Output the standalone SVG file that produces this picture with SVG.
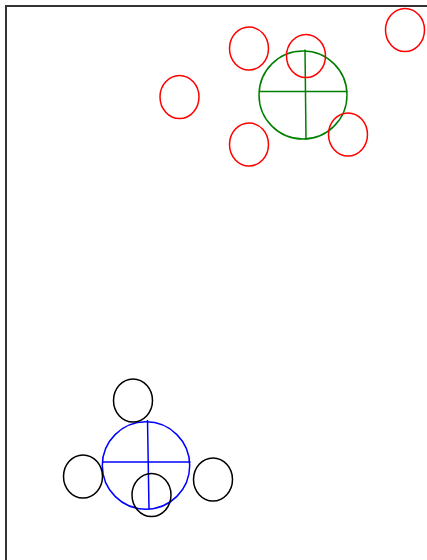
<svg xmlns="http://www.w3.org/2000/svg" width="427" height="560" viewBox="0 0 427 560">
<style>
.r{fill:none;stroke:#ff0000;stroke-width:1.5}
.k{fill:none;stroke:#000;stroke-width:1.5}
.g{fill:none;stroke:#008000;stroke-width:1.5}
.b{fill:none;stroke:#0000ff;stroke-width:1.5}
</style>
<rect width="427" height="560" fill="#fff"/>
<path d="M6,560 V6 H427" fill="none" stroke="#333" stroke-width="2"/>
<g id="green-node">
<circle class="g" cx="303" cy="95" r="44"/>
<line class="g" x1="260" y1="91.5" x2="347.5" y2="91.5"/>
<line class="g" x1="305" y1="49.5" x2="306" y2="139.5"/>
</g>
<g id="red-nodes">
<ellipse id="r1" class="r" cx="249" cy="48.5" rx="19.5" ry="21.5"/>
<ellipse id="r2" class="r" cx="306" cy="56" rx="19.5" ry="21.5"/>
<ellipse id="r3" class="r" cx="405" cy="30" rx="19.5" ry="21.5"/>
<ellipse id="r4" class="r" cx="179.5" cy="97" rx="19.5" ry="21.5"/>
<ellipse id="r5" class="r" cx="249" cy="144.5" rx="19.5" ry="21.5"/>
<ellipse id="r6" class="r" cx="348" cy="134.5" rx="19.5" ry="21.5"/>
</g>
<g id="blue-node">
<circle class="b" cx="146" cy="465.5" r="43.7"/>
<line class="b" x1="103" y1="462" x2="190.5" y2="462"/>
<line class="b" x1="147.5" y1="420" x2="149" y2="509.5"/>
</g>
<g id="black-nodes">
<ellipse id="k1" class="k" cx="133" cy="400.5" rx="19.5" ry="21.5"/>
<ellipse id="k2" class="k" cx="83" cy="476.5" rx="19.5" ry="21.5"/>
<ellipse id="k3" class="k" cx="151.5" cy="495" rx="19.5" ry="21.5"/>
<ellipse id="k4" class="k" cx="213" cy="479.5" rx="19.5" ry="21.5"/>
</g>
<g id="connectors"></g>
</svg>
